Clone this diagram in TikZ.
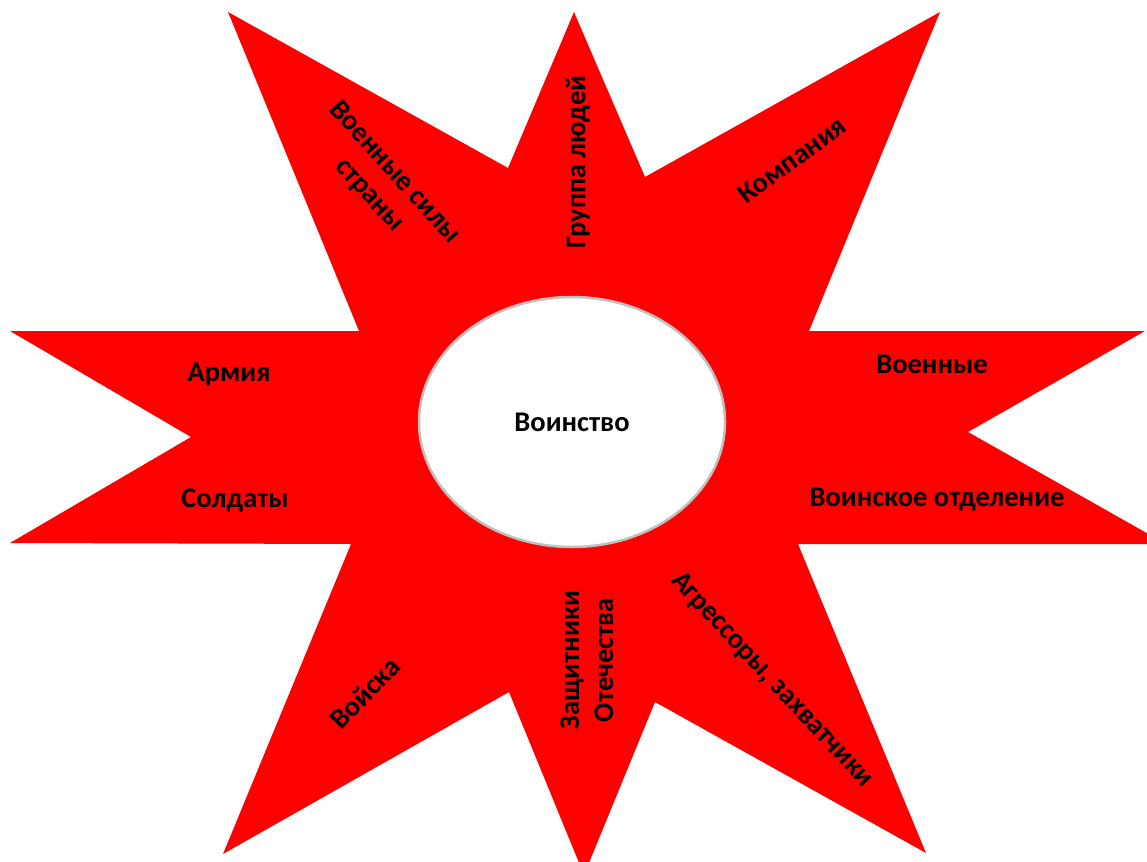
\documentclass[tikz,border=0pt]{standalone}
\usepackage{fontspec}
\setmainfont{Carlito}
\usetikzlibrary{shapes.geometric}
\definecolor{starred}{HTML}{FF0000}
\definecolor{rimgray}{HTML}{BFBFBF}
\tikzset{
  lbl/.style={font=\bfseries\fontsize{28.5}{34}\selectfont, inner sep=0pt, align=center, text=black},
  hub/.style={ellipse, draw=rimgray, line width=2.5pt, fill=white, minimum width=306pt, minimum height=250pt, inner sep=0pt, font=\bfseries\fontsize{28.5}{34}\selectfont}
}
\begin{document}
\begin{tikzpicture}[x=1pt,y=-1pt]
\useasboundingbox (0,0) rectangle (1147,861);
\clip (0,0) rectangle (1147,861);
\fill[starred] (228,12) -- (508,168) -- (574,12) -- (645,177) -- (940,12) -- (809,331)
  -- (1145,331) -- (968,432) -- (1166,544) -- (798,544) -- (926,853) -- (655,702)
  -- (584,875) -- (509,692) -- (223,854) -- (351,544) -- (10,543) -- (191,437)
  -- (10,331) -- (359,331) -- cycle;
\node[hub] (center) at (572,422) {Воинство};
\node[lbl] (armiya) at (229,374) {Армия};
\node[lbl] (soldaty) at (235,500) {Солдаты};
\node[lbl] (voennye) at (932,364) {Военные};
\node[lbl] (otdelenie) at (937,500) {Воинское отделение};
\node[lbl, rotate=90] (gruppa) at (578,162) {Группа людей};
\node[lbl, rotate=36] (kompaniya) at (792,160) {Компания};
\node[lbl, rotate=-48] (sily) at (382,184) {Военные силы\\страны};
\node[lbl, rotate=46] (voyska) at (365,693) {Войска};
\node[lbl, rotate=90] (zashchitniki) at (587,660) {Защитники\\Отечества};
\node[lbl, rotate=-47] (agressory) at (772,680) {Агрессоры, захватчики};
\end{tikzpicture}
\end{document}
